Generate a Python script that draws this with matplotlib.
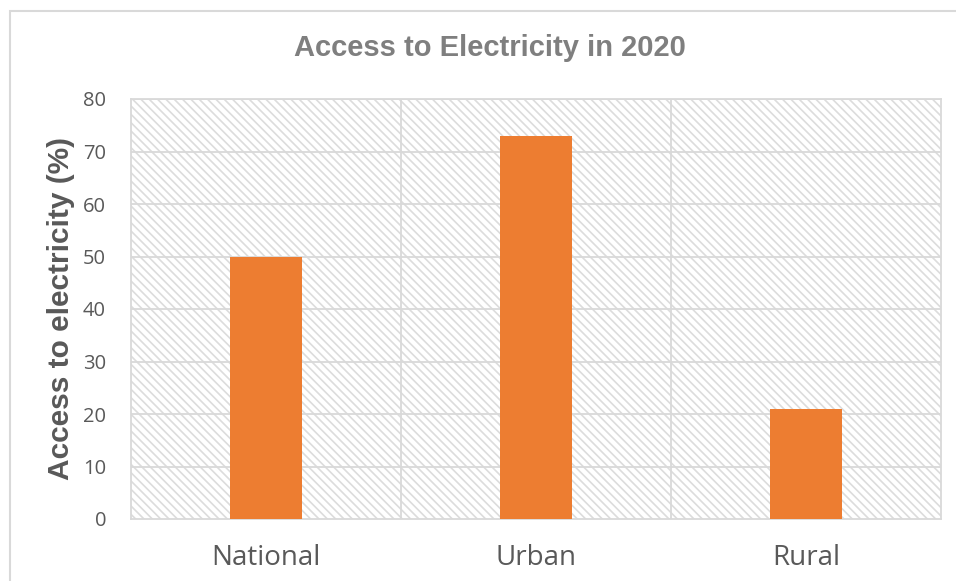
import matplotlib
matplotlib.use("Agg")
import matplotlib.pyplot as plt
from matplotlib.patches import Rectangle

# data
categories = ["National", "Urban", "Rural"]
access = [50, 73, 21]
yticks = [0, 10, 20, 30, 40, 50, 60, 70, 80]

plt.rcParams["hatch.color"] = "#dcdcdc"
plt.rcParams["hatch.linewidth"] = 1.2

fig = plt.figure(figsize=(9.56, 5.81), dpi=100)
ax = fig.add_axes([131/956, 62/581, 810/956, 420/581])

# border around the whole chart (right and bottom edges fall outside the image)
fig.patches.append(Rectangle((10/956, -0.1), 1.2, 1.1 - 11/581, transform=fig.transFigure,
                             fill=False, edgecolor="#d9d9d9", linewidth=1.5))

# hatched plot area
ax.patch.set_facecolor("white")
ax.add_patch(Rectangle((0, 0), 1, 1, transform=ax.transAxes, fill=False,
                       hatch="\\\\\\\\", edgecolor="#dcdcdc", linewidth=0, zorder=0))

x = range(len(categories))
ax.bar(x, access, width=0.267, color="#ED7D31", zorder=3)

ax.set_xlim(-0.5, 2.5)
ax.set_ylim(0, 80)
ax.set_yticks(yticks)
ax.set_xticks(list(x))
ax.set_xticklabels(categories)

for v in yticks[1:]:
    ax.axhline(v, color="#d9d9d9", linewidth=1.3, zorder=1)
for v in [0.5, 1.5]:
    ax.axvline(v, color="#d9d9d9", linewidth=1.3, zorder=1)

for s in ax.spines.values():
    s.set_color("#d9d9d9")
    s.set_linewidth(1.3)

ax.tick_params(length=0)
ax.tick_params(axis="y", pad=18, labelsize=14.5, labelcolor="#595959")
ax.tick_params(axis="x", pad=18, labelsize=20, labelcolor="#595959")
for lab in ax.get_yticklabels() + ax.get_xticklabels():
    lab.set_fontfamily("Open Sans")

ax.set_ylabel("Access to electricity (%)", fontsize=21.5, fontweight="bold",
              color="#595959", family="Liberation Sans", labelpad=6)
fig.text(0.512, 1 - 48/581, "Access to Electricity in 2020", ha="center", va="center",
         fontsize=21, fontweight="bold", color="#7f7f7f",
         family=["Liberation Sans Narrow", "Liberation Sans"])

fig.savefig("out.png", dpi=100)
